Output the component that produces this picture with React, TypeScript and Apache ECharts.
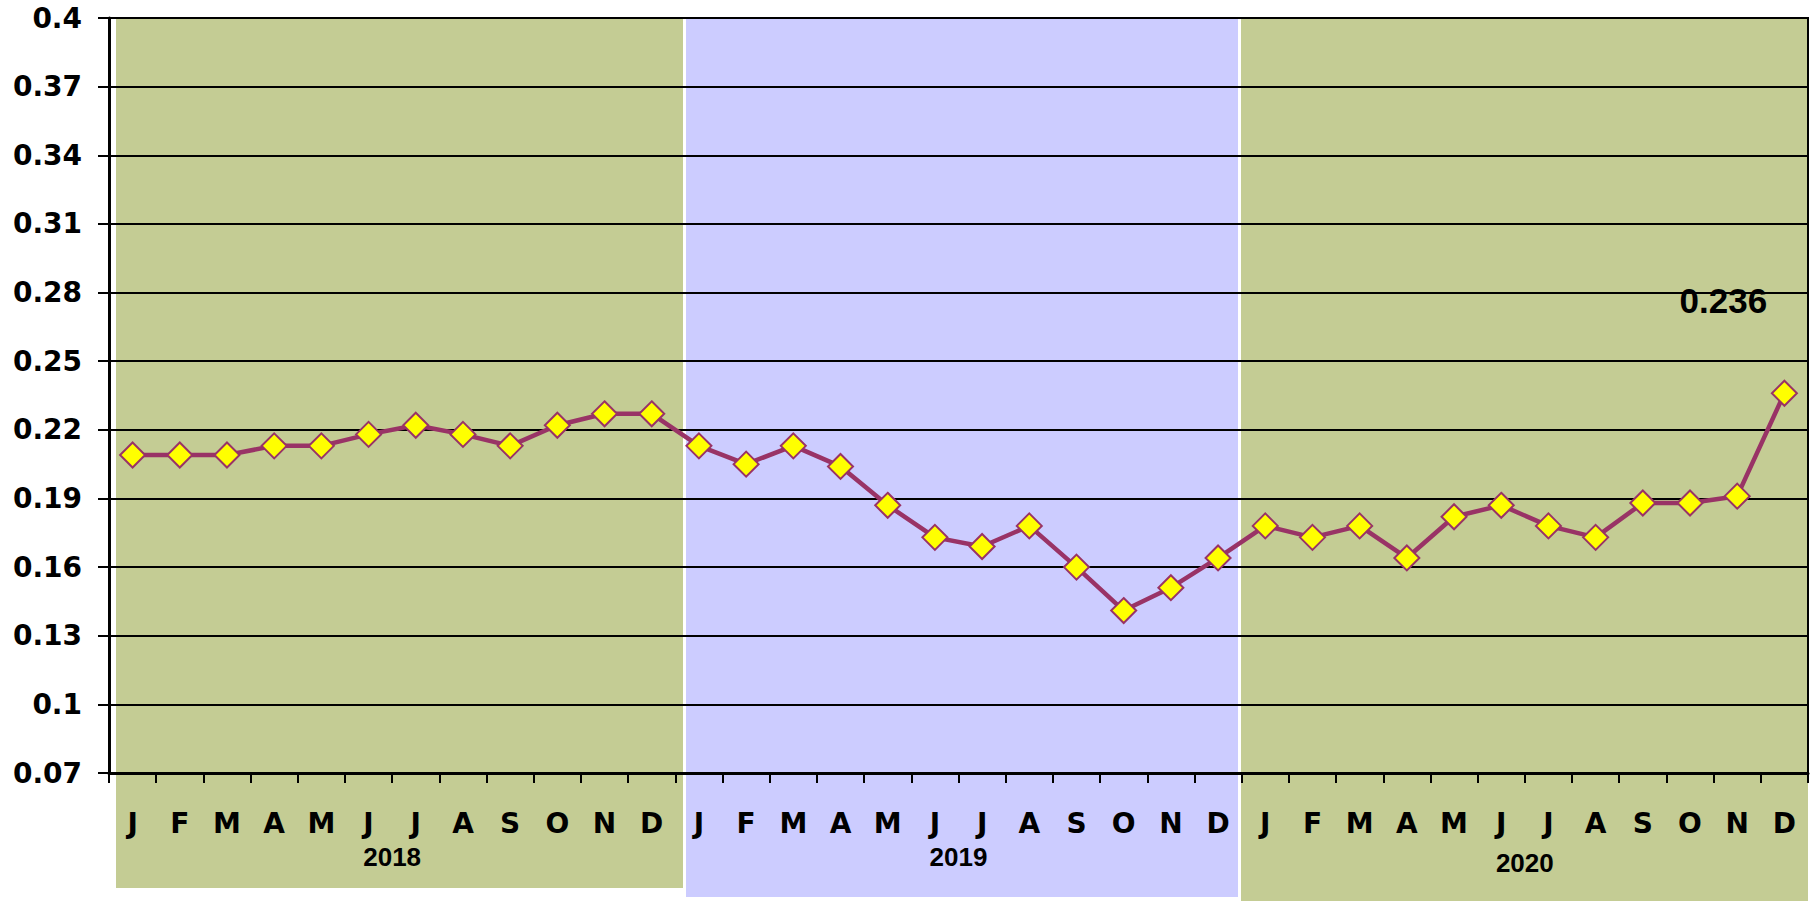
import React, { useEffect, useRef } from "react";
import * as echarts from "echarts";

const MONTHS = ["J", "F", "M", "A", "M", "J", "J", "A", "S", "O", "N", "D"];
const YEARS = ["2018", "2019", "2020"];
const CATEGORIES: string[] = YEARS.flatMap(() => MONTHS);

const VALUES_2018 = [0.209, 0.209, 0.209, 0.213, 0.213, 0.218, 0.222, 0.218, 0.213, 0.222, 0.227, 0.227];
const VALUES_2019 = [0.213, 0.205, 0.213, 0.204, 0.187, 0.173, 0.169, 0.178, 0.16, 0.141, 0.151, 0.164];
const VALUES_2020 = [0.178, 0.173, 0.178, 0.164, 0.182, 0.187, 0.178, 0.173, 0.188, 0.188, 0.191, 0.236];
const VALUES = [...VALUES_2018, ...VALUES_2019, ...VALUES_2020];

const Y_MIN = 0.07;
const Y_MAX = 0.4;
const Y_STEP = 0.03;

const GREEN = "#C4CC94";
const BLUE = "#CCCCFF";
const LINE = "#993366";

export default function App() {
  const ref = useRef<HTMLDivElement>(null);

  useEffect(() => {
    if (!ref.current) return;
    const chart = echarts.init(ref.current, undefined, { renderer: "svg" });
    const last = VALUES.length - 1;
    const seriesData = VALUES.map((v, i) =>
      i === last
        ? {
            value: v,
            label: {
              show: true,
              position: "top",
              offset: [-61, -57],
              formatter: (p: any) => String(p.value),
              fontFamily: "Liberation Sans, Arial, sans-serif",
              fontWeight: "bold",
              fontSize: 35,
              color: "#000",
            },
          }
        : v
    );
    const yearData = YEARS.map((y, i) =>
      i === YEARS.length - 1 ? { value: y, textStyle: { padding: [6, 0, 0, 0] } } : y
    );

    chart.setOption({
      animation: false,
      backgroundColor: "#ffffff",
      grid: { left: 109, right: 6, top: 18, bottom: 128, containLabel: false },
      graphic: [
        { type: "rect", z: -10, shape: { x: 116, y: 17, width: 567, height: 871 }, style: { fill: GREEN } },
        { type: "rect", z: -10, shape: { x: 686, y: 18, width: 552, height: 879 }, style: { fill: BLUE } },
        { type: "rect", z: -10, shape: { x: 1241, y: 17, width: 567, height: 884 }, style: { fill: GREEN } },
        { type: "line", z: 10, shape: { x1: 1808, y1: 17, x2: 1808, y2: 783 }, style: { stroke: "#000", lineWidth: 2 } },
      ],
      xAxis: [
        {
          type: "category",
          data: CATEGORIES,
          boundaryGap: true,
          axisLine: { show: true, lineStyle: { color: "#000", width: 3 } },
          axisTick: { show: true, interval: 0, length: 10, lineStyle: { color: "#000", width: 2 } },
          axisLabel: {
            interval: 0,
            margin: 36,
            color: "#000",
            fontFamily: "DejaVu Sans, sans-serif",
            fontWeight: "bold",
            fontSize: 28,
          },
          splitLine: { show: false },
        },
        {
          type: "category",
          data: yearData,
          position: "bottom",
          boundaryGap: true,
          axisLine: { show: false },
          axisTick: { show: false },
          axisLabel: {
            interval: 0,
            margin: 71,
            color: "#000",
            fontFamily: "Liberation Sans, Arial, sans-serif",
            fontWeight: "bold",
            fontSize: 26,
          },
        },
      ],
      yAxis: {
        type: "value",
        min: Y_MIN,
        max: Y_MAX,
        interval: Y_STEP,
        axisLine: { show: true, lineStyle: { color: "#000", width: 3 } },
        axisTick: { show: true, length: 11, lineStyle: { color: "#000", width: 2 } },
        axisLabel: {
          margin: 27,
          color: "#000",
          fontFamily: "DejaVu Sans, sans-serif",
          fontWeight: "bold",
          fontSize: 28,
          formatter: (v: number) => String(Number(v.toFixed(2))),
        },
        splitLine: { show: true, lineStyle: { color: "#000", width: 2 } },
      },
      series: [
        {
          type: "line",
          data: seriesData,
          xAxisIndex: 0,
          yAxisIndex: 0,
          symbol: "diamond",
          symbolSize: 25,
          lineStyle: { color: LINE, width: 4.5 },
          itemStyle: { color: "#FFFF00", borderColor: LINE, borderWidth: 2 },
          z: 5,
        },
      ],
    });

    return () => chart.dispose();
  }, []);

  return (
    <div
      ref={ref}
      style={{ position: "fixed", left: 0, top: 0, width: "1814px", height: "901px" }}
    />
  );
}
